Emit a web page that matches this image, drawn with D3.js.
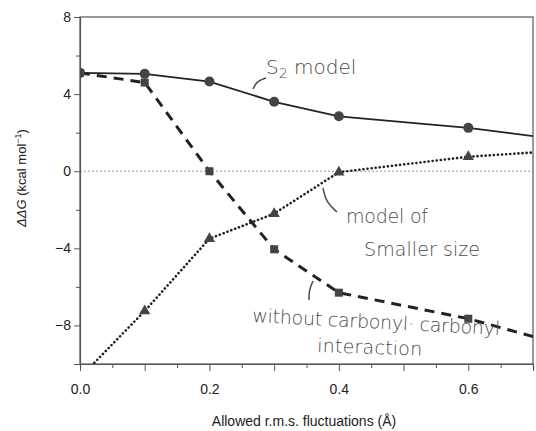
<!DOCTYPE html>
<html>
<head>
  <meta charset="utf-8">
  <script src="https://d3js.org/d3.v7.min.js"></script>
  <style>
    body { margin: 0; background: #fff; }
    svg { font-family: "Liberation Sans", Arial, sans-serif; }
    .hand { font-family: "DejaVu Sans", sans-serif; fill: #4a4a4a; font-weight: 300; }
  </style>
</head>
<body>
<div id="chart"></div>
<script>
  // values
  var rms = [0.0, 0.1, 0.2, 0.3, 0.4, 0.6, 0.8];
  var s2Model = [5.1, 5.05, 4.65, 3.6, 2.85, 2.25, 1.4];
  var noCarbonyl = [5.1, 4.6, 0.0, -4.05, -6.3, -7.65, -9.5];
  var smallerSize = [-10.7, -7.25, -3.5, -2.2, -0.05, 0.75, 1.2];
  var xTicks = [0.0, 0.2, 0.4, 0.6];
  var yTicks = [-8, -4, 0, 4, 8];

  var W = 536, H = 431;
  var pLeft = 80, pRight = 533, pTop = 17, pBottom = 364;

  var svg = d3.select("#chart").append("svg")
    .attr("width", W).attr("height", H);

  var x = d3.scaleLinear().domain([0, 0.7]).range([pLeft, pRight]);
  var y = d3.scaleLinear().domain([-10, 8]).range([pBottom, pTop]);

  svg.append("clipPath").attr("id", "plot")
    .append("rect")
    .attr("x", pLeft).attr("y", pTop)
    .attr("width", pRight - pLeft).attr("height", pBottom - pTop);

  // zero reference line
  svg.append("line")
    .attr("x1", pLeft).attr("x2", pRight)
    .attr("y1", y(0)).attr("y2", y(0))
    .attr("stroke", "#9a9a9a").attr("stroke-width", 1)
    .attr("stroke-dasharray", "2,2");

  // frame
  svg.append("rect")
    .attr("x", pLeft).attr("y", pTop)
    .attr("width", pRight - pLeft).attr("height", pBottom - pTop)
    .attr("fill", "none").attr("stroke", "#555").attr("stroke-width", 1.2);

  // axes
  var xAxis = svg.append("g")
    .attr("transform", "translate(0," + pBottom + ")")
    .call(d3.axisBottom(x).tickValues(d3.range(0, 0.701, 0.05)).tickSize(4).tickFormat(""));
  xAxis.selectAll(".tick line")
    .attr("y2", function (d) { return Math.abs(d * 10 - Math.round(d * 10)) < 1e-6 ? 7 : 4; });
  svg.append("g")
    .attr("transform", "translate(0," + pBottom + ")")
    .call(d3.axisBottom(x).tickValues(xTicks).tickSize(0).tickPadding(20).tickFormat(d3.format(".1f")))
    .call(function (g) { g.select(".domain").remove(); })
    .selectAll("text").attr("font-size", 14).attr("fill", "#222");

  var yAxis = svg.append("g")
    .attr("transform", "translate(" + pLeft + ",0)")
    .call(d3.axisLeft(y).tickValues(d3.range(-10, 8.1, 2)).tickSize(6).tickPadding(3)
      .tickFormat(function (d) { return yTicks.indexOf(d) >= 0 ? String(d).replace("-", "\u2212") : ""; }));
  yAxis.selectAll(".tick line")
    .attr("x2", function (d) { return yTicks.indexOf(d) >= 0 ? -6 : -4; });
  yAxis.selectAll("text").attr("font-size", 14).attr("fill", "#222");
  svg.selectAll(".domain").attr("stroke", "#555").attr("stroke-width", 1.2);
  svg.selectAll(".tick line").attr("stroke", "#555");

  // axis titles
  svg.append("text")
    .attr("transform", "translate(26,178) rotate(-90)")
    .attr("text-anchor", "middle")
    .attr("font-size", 13).attr("fill", "#222")
    .html('<tspan font-style="italic">\u0394\u0394G</tspan> (kcal mol<tspan dy="-5" font-size="9">\u22121</tspan><tspan dy="5">)</tspan>');
  svg.append("text")
    .attr("x", 304).attr("y", 426)
    .attr("text-anchor", "middle")
    .attr("font-size", 14).attr("fill", "#222")
    .text("Allowed r.m.s. fluctuations (\u00c5)");

  var plot = svg.append("g").attr("clip-path", "url(#plot)");

  function series(vals) {
    return rms.map(function (r, i) { return [r, vals[i]]; });
  }
  var line = d3.line().x(function (d) { return x(d[0]); }).y(function (d) { return y(d[1]); });

  plot.append("path").datum(series(s2Model))
    .attr("d", line).attr("fill", "none")
    .attr("stroke", "#222").attr("stroke-width", 1.8);
  plot.append("path").datum(series(noCarbonyl))
    .attr("d", line).attr("fill", "none")
    .attr("stroke", "#222").attr("stroke-width", 3)
    .attr("stroke-dasharray", "10,7");
  plot.append("path").datum(series(smallerSize))
    .attr("d", line).attr("fill", "none")
    .attr("stroke", "#222").attr("stroke-width", 2.6)
    .attr("stroke-linecap", "round")
    .attr("stroke-dasharray", "0.1,4");

  plot.selectAll(".circ").data(series(s2Model)).enter().append("circle")
    .attr("cx", function (d) { return x(d[0]); })
    .attr("cy", function (d) { return y(d[1]); })
    .attr("r", 5).attr("fill", "#444");
  plot.selectAll(".sq").data(series(noCarbonyl)).enter().append("rect")
    .attr("x", function (d) { return x(d[0]) - 4; })
    .attr("y", function (d) { return y(d[1]) - 4; })
    .attr("width", 8).attr("height", 8).attr("fill", "#444");
  plot.selectAll(".tri").data(series(smallerSize)).enter().append("path")
    .attr("transform", function (d) { return "translate(" + x(d[0]) + "," + y(d[1]) + ")"; })
    .attr("d", d3.symbol().type(d3.symbolTriangle).size(55))
    .attr("fill", "#444");

  // handwritten notes
  var notes = svg.append("g");
  notes.append("text").attr("class", "hand")
    .attr("x", 266).attr("y", 74).attr("font-size", 20)
    .html('S<tspan dy="4" font-size="14">2</tspan><tspan dy="-4"> model</tspan>');
  notes.append("text").attr("class", "hand")
    .attr("x", 346).attr("y", 223).attr("font-size", 19)
    .attr("textLength", 82).text("model of");
  notes.append("text").attr("class", "hand")
    .attr("x", 364).attr("y", 256).attr("font-size", 19)
    .attr("textLength", 116).text("Smaller size");
  notes.append("text").attr("class", "hand")
    .attr("transform", "translate(252,322) rotate(3)").attr("font-size", 19)
    .attr("textLength", 248).text("without carbonyl\u00b7 carbonyl");
  notes.append("text").attr("class", "hand")
    .attr("transform", "translate(317,352) rotate(2)").attr("font-size", 19)
    .attr("textLength", 105).text("interaction");

  var pen = d3.line().curve(d3.curveBasis);
  [[[266, 78], [257, 81], [253, 89]],
   [[323, 188], [326, 202], [337, 212]],
   [[313, 281], [309, 290], [309, 300]]].forEach(function (p) {
    notes.append("path").attr("d", pen(p))
      .attr("fill", "none").attr("stroke", "#4a4a4a").attr("stroke-width", 1.5);
  });
</script>
</body>
</html>
